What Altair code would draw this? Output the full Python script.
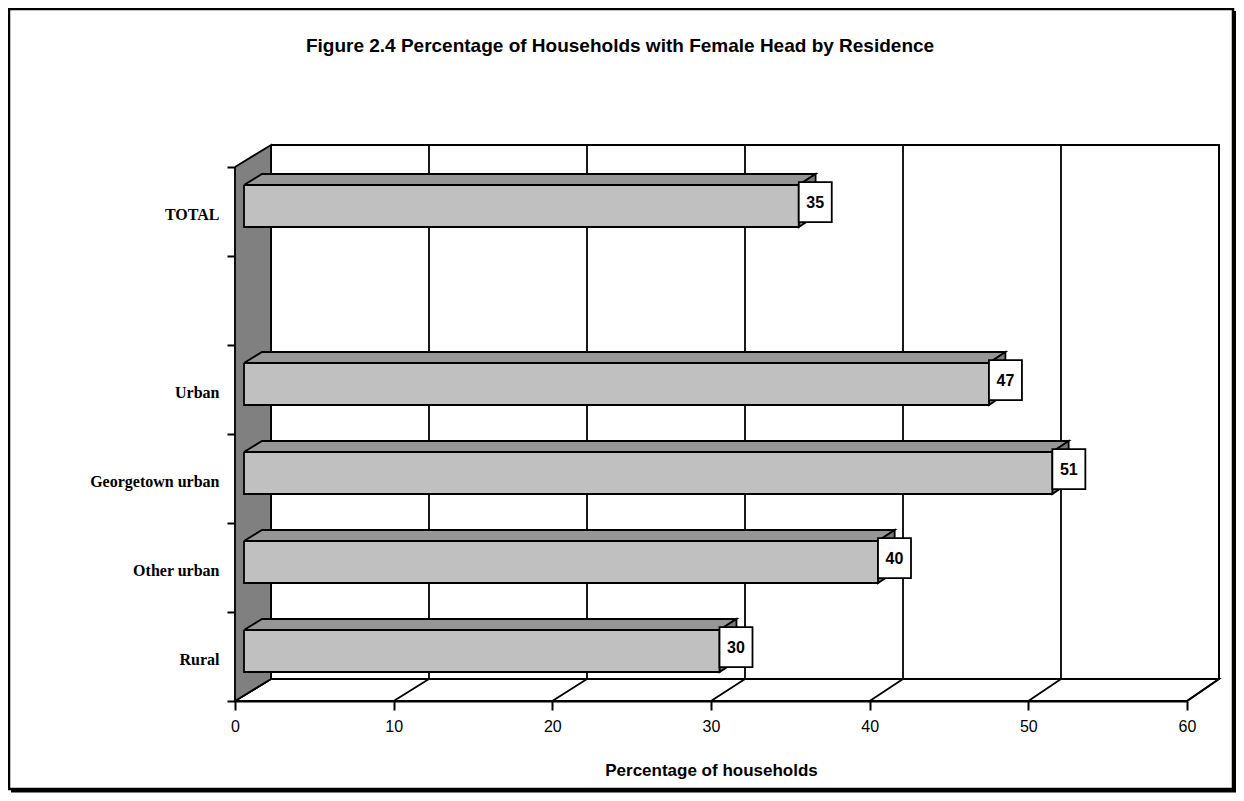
import json
import altair as alt
import pandas as pd

# ---------------- data ----------------
categories = ["TOTAL", "", "Urban", "Georgetown urban", "Other urban", "Rural"]
bar_categories = ["TOTAL", "Urban", "Georgetown urban", "Other urban", "Rural"]
values = [35, 47, 51, 40, 30]
x_ticks = [0, 10, 20, 30, 40, 50, 60]

title_text = "Figure 2.4 Percentage of Households with Female Head by Residence"
x_title = "Percentage of households"

# ---------------- layout / style constants ----------------
W, H = 952, 534
X_MAX = 60
N_SLOTS = len(categories)
PX_PER_UNIT = W / X_MAX
SLOT_PX = H / N_SLOTS
DEPTH_X0 = 36 / PX_PER_UNIT                 # depth shift (x units) at value 0
DEPTH_XS = (948 / X_MAX) / PX_PER_UNIT - 1  # slight perspective
DEPTH_Y = 22 / SLOT_PX                      # depth shift (slot units)
BAR_HALF = 0.236
D1, D2 = 0.25, 0.75
BOX_W = 33 / PX_PER_UNIT
BOX_H = 40 / SLOT_PX
BOX_DEPTH = 0.43
SW = 1.8

slot_of = {c: i for i, c in enumerate(categories)}


def proj(v, s, d):
    return v + d * (DEPTH_X0 + DEPTH_XS * v), s - d * DEPTH_Y


def poly_df(polys):
    rows = []
    for pid, pts in polys:
        pts = pts + [pts[0]]
        for i, (x, y) in enumerate(pts):
            rows.append({"pid": pid, "i": i, "x": x, "y": y})
    return pd.DataFrame(rows)


xs = alt.Scale(domain=[0, X_MAX], nice=False, zero=False)
ys = alt.Scale(domain=[0, N_SLOTS], nice=False, zero=False, reverse=True)

label_expr = json.dumps(categories) + "[datum.value] || ''"

x_axis = alt.Axis(
    values=x_ticks, format="d", grid=False, domain=True, domainColor="black",
    domainWidth=2, ticks=True, tickSize=9, tickWidth=2, tickColor="black",
    labelFont="Liberation Sans", labelFontSize=16, labelColor="black",
    labelPadding=8, labelFlush=False, labelOverlap=False,
    title=x_title, titleFont="Liberation Sans", titleFontSize=17,
    titleFontWeight="bold", titleColor="black", titlePadding=28,
)
y_axis = alt.Axis(
    values=list(range(N_SLOTS + 1)), labelExpr=label_expr, grid=False,
    domain=True, domainColor="black", domainWidth=2, ticks=True, tickSize=8,
    tickWidth=2, tickColor="black", labelFont="Liberation Serif",
    labelFontWeight="bold", labelFontSize=16, labelColor="black",
    labelPadding=8, labelOffset=SLOT_PX / 2 + 3, labelAlign="right",
    labelBaseline="middle", labelFlush=False, labelOverlap=False,
    labelBound=False, title=None,
)


def X(f):
    return alt.X(f, type="quantitative", scale=xs, axis=x_axis)


def Y(f):
    return alt.Y(f, type="quantitative", scale=ys, axis=y_axis)


# ---------------- walls and floor ----------------
back_wall = poly_df([("back", [proj(0, 0, 1), proj(X_MAX, 0, 1),
                               proj(X_MAX, N_SLOTS, 1), proj(0, N_SLOTS, 1)])])
floor = poly_df([("floor", [proj(0, N_SLOTS, 0), proj(X_MAX, N_SLOTS, 0),
                            proj(X_MAX, N_SLOTS, 1), proj(0, N_SLOTS, 1)])])
left_wall = poly_df([("left", [proj(0, 0, 0), proj(0, 0, 1),
                               proj(0, N_SLOTS, 1), proj(0, N_SLOTS, 0)])])

grid_rows = []
for v in x_ticks:
    bx, by_top = proj(v, 0, 1)
    _, by_bot = proj(v, N_SLOTS, 1)
    fx, fy = proj(v, N_SLOTS, 0)
    grid_rows.append({"v": v, "bx": bx, "byt": by_top, "byb": by_bot,
                      "fx": fx, "fy": fy})
grid = pd.DataFrame(grid_rows)

# ---------------- bars ----------------
front, top, end, boxes = [], [], [], []
for cat, val in zip(bar_categories, values):
    c = slot_of[cat] + 0.5
    t, b = c - BAR_HALF, c + BAR_HALF
    front.append((cat, [proj(0, t, D1), proj(val, t, D1), proj(val, b, D1), proj(0, b, D1)]))
    top.append((cat, [proj(0, t, D1), proj(val, t, D1), proj(val, t, D2), proj(0, t, D2)]))
    end.append((cat, [proj(val, t, D1), proj(val, t, D2), proj(val, b, D2), proj(val, b, D1)]))
    xl, _ = proj(val, c, D1)
    _, yc = proj(val, c, BOX_DEPTH)
    boxes.append({"cat": cat, "label": str(val), "x": xl, "x2": xl + BOX_W,
                  "xc": xl + BOX_W / 2, "y": yc - BOX_H / 2, "y2": yc + BOX_H / 2,
                  "yc": yc})
boxes = pd.DataFrame(boxes)


def poly_layer(df, fill):
    return alt.Chart(df).mark_line(
        fill=fill, stroke="black", strokeWidth=SW, strokeJoin="miter"
    ).encode(x=X("x"), y=Y("y"), order=alt.Order("i:Q"), detail="pid:N")


back_layer = poly_layer(back_wall, "white")
floor_layer = poly_layer(floor, "white")
left_layer = poly_layer(left_wall, "#808080")

grid_layer = alt.Chart(grid).mark_rule(color="black", strokeWidth=SW).encode(
    x=X("bx"), y=Y("byt"), y2="byb")
floor_lines = alt.Chart(grid).mark_rule(color="black", strokeWidth=SW).encode(
    x=X("fx"), y=Y("fy"), x2="bx", y2="byb")

top_layer = poly_layer(poly_df(top), "#969696")
end_layer = poly_layer(poly_df(end), "#7a7a7a")
front_layer = poly_layer(poly_df(front), "#c0c0c0")

box_layer = alt.Chart(boxes).mark_rect(
    fill="white", stroke="black", strokeWidth=SW
).encode(x=X("x"), x2="x2", y=Y("y"), y2="y2")
text_layer = alt.Chart(boxes).mark_text(
    font="Liberation Sans", fontSize=16, fontWeight="bold", color="black",
    align="center", baseline="middle", dy=1
).encode(x=X("xc"), y=Y("yc"), text="label:N")

frame_src = pd.DataFrame({"k": [0]})
frame = alt.Chart(frame_src).mark_rect(
    fillOpacity=0, stroke="black", strokeWidth=2.5
).encode(x=alt.value(-226), x2=alt.value(998), y=alt.value(-158), y2=alt.value(622))
shadow_r = alt.Chart(frame_src).mark_rule(color="black", strokeWidth=3).encode(
    x=alt.value(1000), y=alt.value(-156), y2=alt.value(625))
shadow_b = alt.Chart(frame_src).mark_rule(color="black", strokeWidth=3).encode(
    x=alt.value(-224), x2=alt.value(1001), y=alt.value(624))

chart = alt.layer(
    frame, shadow_r, shadow_b,
    back_layer, grid_layer, floor_layer, floor_lines, left_layer,
    top_layer, end_layer, front_layer, box_layer, text_layer,
).properties(
    width=W, height=H,
    autosize="none",
    padding={"left": 227, "top": 159, "right": 1228 - 227 - W, "bottom": 785 - 159 - H},
    title=alt.TitleParams(
        text=title_text, font="Liberation Sans", fontSize=19, fontWeight="bold",
        color="black", anchor="middle", dx=-91, offset=-48,
    ),
    background="white",
).configure_view(strokeWidth=0)

chart.save("out.html", embed_options={"renderer": "svg", "actions": False})
